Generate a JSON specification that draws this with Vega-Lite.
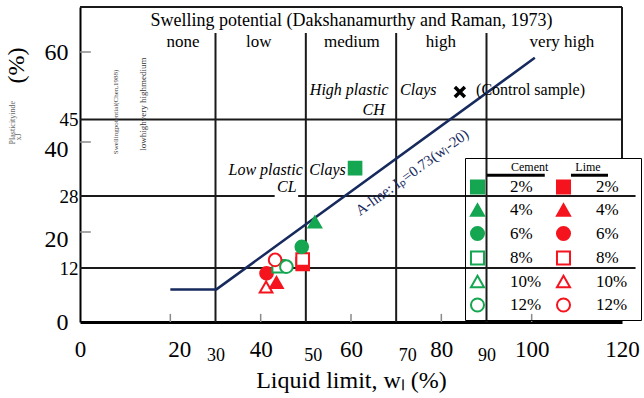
{
  "$schema": "https://vega.github.io/schema/vega-lite/v6.json",
  "width": 542,
  "height": 315,
  "autosize": {"type": "none"},
  "padding": {"left": 80, "top": 7, "right": 22, "bottom": 76},
  "background": "white",
  "config": {"font": "Liberation Serif", "view": {"stroke": null}},
  "datasets": {
    "lines": [
      {"x": 0, "x2": 120, "y": 70, "y2": 70},
      {"x": 120, "x2": 120, "y": 36.4, "y2": 70},
      {"x": 0, "x2": 120, "y": 45, "y2": 45},
      {"x": 0, "x2": 43.1, "y": 28, "y2": 28},
      {"x": 48.3, "x2": 123, "y": 28, "y2": 28},
      {"x": 0, "x2": 123, "y": 12, "y2": 12},
      {"x": 30, "x2": 30, "y": 0, "y2": 64.2},
      {"x": 50, "x2": 50, "y": 0, "y2": 64.2},
      {"x": 70, "x2": 70, "y": 0, "y2": 64.2},
      {"x": 90, "x2": 90, "y": 0, "y2": 64.2}
    ],
    "underlines": [
      {"x": 90.1, "x2": 102.9, "y": 32.6, "y2": 32.6},
      {"x": 108.7, "x2": 116.9, "y": 32.6, "y2": 32.6}
    ],
    "ticks": [
      {"x": 20, "x2": 20, "y": 0, "y2": 1.8},
      {"x": 40, "x2": 40, "y": 0, "y2": 1.8},
      {"x": 60, "x2": 60, "y": 0, "y2": 1.8},
      {"x": 80, "x2": 80, "y": 0, "y2": 1.8},
      {"x": 100, "x2": 100, "y": 0, "y2": 1.8},
      {"x": 0, "x2": 2.4, "y": 20, "y2": 20},
      {"x": 0, "x2": 2.4, "y": 40, "y2": 40},
      {"x": 0, "x2": 2.4, "y": 60, "y2": 60}
    ],
    "aline": [
      {"x": 20, "y": 7.25},
      {"x": 30.2, "y": 7.25},
      {"x": 100.7, "y": 58.7}
    ],
    "points": [
      {"key": "Lime 2%", "x": 49.3, "y": 12.9},
      {"key": "Cement 10%", "x": 43.9, "y": 13.0},
      {"key": "Lime 10%", "x": 41.2, "y": 7.8},
      {"key": "Lime 6%", "x": 41.3, "y": 10.8},
      {"key": "Lime 4%", "x": 43.5, "y": 8.8},
      {"key": "Cement 8%", "x": 44.0, "y": 12.4},
      {"key": "Lime 12%", "x": 43.2, "y": 13.8},
      {"key": "Cement 12%", "x": 45.7, "y": 12.3},
      {"key": "Lime 8%", "x": 49.3, "y": 13.9},
      {"key": "Cement 6%", "x": 49.1, "y": 16.7},
      {"key": "Cement 4%", "x": 52.0, "y": 22.2},
      {"key": "Cement 2%", "x": 60.9, "y": 34.2}
    ],
    "control": [{"x": 84.1, "y": 51.1}],
    "zones": [
      {"t": "none", "x": 22.8, "y": 62.3},
      {"t": "low", "x": 39.6, "y": 62.3},
      {"t": "medium", "x": 60.2, "y": 62.3},
      {"t": "high", "x": 79.9, "y": 62.3},
      {"t": "very high", "x": 106.7, "y": 62.3}
    ],
    "italic": [
      {"t": "High plastic", "x": 59.6, "y": 51.6},
      {"t": "CH", "x": 65.0, "y": 47.1},
      {"t": "Clays", "x": 74.9, "y": 51.6},
      {"t": "Low plastic", "x": 41.1, "y": 33.8},
      {"t": "CL", "x": 45.8, "y": 30.0},
      {"t": "Clays", "x": 54.8, "y": 33.8}
    ]
  },
  "layer": [
    {
      "data": {"name": "lines"},
      "mark": {"type": "rule", "color": "#1a1a1a", "strokeWidth": 2},
      "encoding": {
        "x": {
          "field": "x", "type": "quantitative",
          "scale": {"domain": [0, 120], "nice": false, "zero": false},
          "axis": {
            "values": [0, 20, 30, 40, 50, 60, 70, 80, 90, 100, 120],
            "title": "Liquid limit, wₗ (%)",
            "titleFont": "Liberation Serif", "titleFontSize": 24, "titleFontWeight": "normal", "titleColor": "black", "titlePadding": 4,
            "labelFont": "Liberation Serif", "labelColor": "black",
            "labelFontSize": {"condition": {"test": "datum.value == 30 || datum.value == 50 || datum.value == 70 || datum.value == 90", "value": 18}, "value": 23},
            "labelPadding": {"condition": {"test": "datum.value == 30 || datum.value == 50 || datum.value == 70 || datum.value == 90", "value": 24}, "value": 16},
            "labelOffset": {"condition": [{"test": "datum.value == 20", "value": 9}, {"test": "datum.value == 50", "value": 7}, {"test": "datum.value == 70", "value": 11}], "value": 0},
            "labelFlush": false, "labelOverlap": false,
            "ticks": false, "grid": false, "domainColor": "black", "domainWidth": 3
          }
        },
        "x2": {"field": "x2"},
        "y": {
          "field": "y", "type": "quantitative",
          "scale": {"domain": [0, 70], "nice": false, "zero": false},
          "axis": {
            "values": [0, 12, 20, 28, 40, 45, 60],
            "title": "(%)",
            "titleFont": "Liberation Serif", "titleFontSize": 24, "titleFontWeight": "normal", "titleColor": "black",
            "titleX": -52, "titleY": 58,
            "labelFont": "Liberation Serif", "labelColor": "black",
            "labelFontSize": {"condition": {"test": "datum.value == 12 || datum.value == 28 || datum.value == 45", "value": 19}, "value": 24},
            "labelPadding": {"condition": {"test": "datum.value == 12 || datum.value == 28 || datum.value == 45", "value": 2}, "value": 12},
            "labelOffset": {"condition": {"test": "datum.value == 20 || datum.value == 40", "value": 7}, "value": 0},
            "labelFlush": false, "labelOverlap": false,
            "ticks": false, "grid": false, "domainColor": "black", "domainWidth": 2
          }
        },
        "y2": {"field": "y2"}
      }
    },
    {
      "data": {"name": "underlines"},
      "mark": {"type": "rule", "color": "black", "strokeWidth": 3},
      "encoding": {
        "x": {"field": "x", "type": "quantitative"},
        "x2": {"field": "x2"},
        "y": {"field": "y", "type": "quantitative"},
        "y2": {"field": "y2"}
      }
    },
    {
      "data": {"name": "ticks"},
      "mark": {"type": "rule", "color": "#8a8a8a", "strokeWidth": 1.5},
      "encoding": {
        "x": {"field": "x", "type": "quantitative"},
        "x2": {"field": "x2"},
        "y": {"field": "y", "type": "quantitative"},
        "y2": {"field": "y2"}
      }
    },
    {
      "data": {"name": "aline"},
      "mark": {"type": "line", "color": "#172a5e", "strokeWidth": 2.5},
      "encoding": {
        "x": {"field": "x", "type": "quantitative"},
        "y": {"field": "y", "type": "quantitative"}
      }
    },
    {
      "data": {"name": "points"},
      "mark": {"type": "point", "filled": true, "size": 160, "strokeWidth": 2, "opacity": 1},
      "encoding": {
        "x": {"field": "x", "type": "quantitative"},
        "y": {"field": "y", "type": "quantitative"},
        "shape": {
          "field": "key", "type": "nominal",
          "scale": {
            "domain": ["Cement 2%", "Cement 4%", "Cement 6%", "Cement 8%", "Cement 10%", "Cement 12%", "Lime 2%", "Lime 4%", "Lime 6%", "Lime 8%", "Lime 10%", "Lime 12%"],
            "range": ["square", "triangle-up", "circle", "square", "triangle-up", "circle", "square", "triangle-up", "circle", "square", "triangle-up", "circle"]
          },
          "legend": {
            "title": "\u2060\u00a0\u00a0\u00a0\u00a0\u00a0\u00a0\u00a0\u00a0\u00a0\u00a0\u00a0\u00a0\u00a0\u00a0Cement\u00a0\u00a0\u00a0\u00a0\u00a0\u00a0\u00a0\u00a0\u00a0Lime\u00a0\u00a0\u00a0\u00a0\u00a0\u00a0\u00a0\u00a0\u00a0\u00a0\u00a0\u00a0\u2060",
            "orient": "none", "legendX": 385, "legendY": 151, "columns": 2,
            "titleFont": "Liberation Serif", "titleFontSize": 12, "titleFontWeight": "normal", "titleColor": "black", "titlePadding": 4,
            "labelFont": "Liberation Serif", "labelFontSize": 17, "labelColor": "black", "labelOffset": 24,
            "labelExpr": "split(datum.label, ' ')[1]",
            "symbolSize": 170, "symbolStrokeWidth": 2,
            "rowPadding": 1.5, "columnPadding": 10, "padding": 4,
            "strokeColor": "black",
            "encode": {"legend": {"update": {"strokeWidth": {"value": 3}}}}
          }
        },
        "fill": {
          "field": "key", "type": "nominal",
          "scale": {
            "domain": ["Cement 2%", "Cement 4%", "Cement 6%", "Cement 8%", "Cement 10%", "Cement 12%", "Lime 2%", "Lime 4%", "Lime 6%", "Lime 8%", "Lime 10%", "Lime 12%"],
            "range": ["#14a650", "#14a650", "#14a650", "white", "white", "white", "#f5141e", "#f5141e", "#f5141e", "white", "white", "white"]
          },
          "legend": {
            "title": "\u2060\u00a0\u00a0\u00a0\u00a0\u00a0\u00a0\u00a0\u00a0\u00a0\u00a0\u00a0\u00a0\u00a0\u00a0Cement\u00a0\u00a0\u00a0\u00a0\u00a0\u00a0\u00a0\u00a0\u00a0Lime\u00a0\u00a0\u00a0\u00a0\u00a0\u00a0\u00a0\u00a0\u00a0\u00a0\u00a0\u00a0\u2060",
            "orient": "none", "legendX": 385, "legendY": 151, "columns": 2,
            "titleFont": "Liberation Serif", "titleFontSize": 12, "titleFontWeight": "normal", "titleColor": "black", "titlePadding": 4,
            "labelFont": "Liberation Serif", "labelFontSize": 17, "labelColor": "black", "labelOffset": 24,
            "labelExpr": "split(datum.label, ' ')[1]",
            "symbolSize": 170, "symbolStrokeWidth": 2,
            "rowPadding": 1.5, "columnPadding": 10, "padding": 4,
            "strokeColor": "black",
            "encode": {"legend": {"update": {"strokeWidth": {"value": 3}}}}
          }
        },
        "stroke": {
          "field": "key", "type": "nominal",
          "scale": {
            "domain": ["Cement 2%", "Cement 4%", "Cement 6%", "Cement 8%", "Cement 10%", "Cement 12%", "Lime 2%", "Lime 4%", "Lime 6%", "Lime 8%", "Lime 10%", "Lime 12%"],
            "range": ["#14a650", "#14a650", "#14a650", "#14a650", "#14a650", "#14a650", "#f5141e", "#f5141e", "#f5141e", "#f5141e", "#f5141e", "#f5141e"]
          },
          "legend": {
            "title": "\u2060\u00a0\u00a0\u00a0\u00a0\u00a0\u00a0\u00a0\u00a0\u00a0\u00a0\u00a0\u00a0\u00a0\u00a0Cement\u00a0\u00a0\u00a0\u00a0\u00a0\u00a0\u00a0\u00a0\u00a0Lime\u00a0\u00a0\u00a0\u00a0\u00a0\u00a0\u00a0\u00a0\u00a0\u00a0\u00a0\u00a0\u2060",
            "orient": "none", "legendX": 385, "legendY": 151, "columns": 2,
            "titleFont": "Liberation Serif", "titleFontSize": 12, "titleFontWeight": "normal", "titleColor": "black", "titlePadding": 4,
            "labelFont": "Liberation Serif", "labelFontSize": 17, "labelColor": "black", "labelOffset": 24,
            "labelExpr": "split(datum.label, ' ')[1]",
            "symbolSize": 170, "symbolStrokeWidth": 2,
            "rowPadding": 1.5, "columnPadding": 10, "padding": 4,
            "strokeColor": "black",
            "encode": {"legend": {"update": {"strokeWidth": {"value": 3}}}}
          }
        }
      }
    },
    {
      "data": {"name": "control"},
      "mark": {"type": "point", "shape": "M-1,-1L1,1M-1,1L1,-1", "filled": false, "size": 100, "stroke": "black", "strokeWidth": 3.5, "opacity": 1},
      "encoding": {
        "x": {"field": "x", "type": "quantitative"},
        "y": {"field": "y", "type": "quantitative"}
      }
    },
    {
      "data": {"values": [{"t": "Swelling potential (Dakshanamurthy and Raman, 1973)", "x": 60.1, "y": 66.9}]},
      "mark": {"type": "text", "font": "Liberation Serif", "fontSize": 18, "color": "black", "align": "center", "baseline": "middle"},
      "encoding": {"x": {"field": "x", "type": "quantitative"}, "y": {"field": "y", "type": "quantitative"}, "text": {"field": "t"}}
    },
    {
      "data": {"name": "zones"},
      "mark": {"type": "text", "font": "Liberation Serif", "fontSize": 17, "color": "black", "align": "center", "baseline": "middle"},
      "encoding": {"x": {"field": "x", "type": "quantitative"}, "y": {"field": "y", "type": "quantitative"}, "text": {"field": "t"}}
    },
    {
      "data": {"name": "italic"},
      "mark": {"type": "text", "font": "Liberation Serif", "fontSize": 16, "fontStyle": "italic", "color": "black", "align": "center", "baseline": "middle"},
      "encoding": {"x": {"field": "x", "type": "quantitative"}, "y": {"field": "y", "type": "quantitative"}, "text": {"field": "t"}}
    },
    {
      "data": {"values": [{"t": "(Control sample)", "x": 87.7, "y": 51.6}]},
      "mark": {"type": "text", "font": "Liberation Serif", "fontSize": 16, "color": "black", "align": "left", "baseline": "middle"},
      "encoding": {"x": {"field": "x", "type": "quantitative"}, "y": {"field": "y", "type": "quantitative"}, "text": {"field": "t"}}
    },
    {
      "data": {"values": [{"t": "A-line: Iₚ=0.73(wₗ-20)", "x": 73.5, "y": 33.3}]},
      "mark": {"type": "text", "font": "Liberation Serif", "fontSize": 15, "color": "#172a5e", "align": "center", "baseline": "middle", "angle": -36},
      "encoding": {"x": {"field": "x", "type": "quantitative"}, "y": {"field": "y", "type": "quantitative"}, "text": {"field": "t"}}
    },
    {
      "data": {"values": [{"t": "Swellingpotential(Chen,1988)", "x": 8.0, "y": 46.7}]},
      "mark": {"type": "text", "font": "Liberation Serif", "fontSize": 7, "color": "#444444", "align": "center", "baseline": "middle", "angle": -90},
      "encoding": {"x": {"field": "x", "type": "quantitative"}, "y": {"field": "y", "type": "quantitative"}, "text": {"field": "t"}}
    },
    {
      "data": {"values": [{"t": "lowhighvery highmedium", "x": 13.9, "y": 48.4}]},
      "mark": {"type": "text", "font": "Liberation Serif", "fontSize": 9, "color": "#333333", "align": "center", "baseline": "middle", "angle": -90},
      "encoding": {"x": {"field": "x", "type": "quantitative"}, "y": {"field": "y", "type": "quantitative"}, "text": {"field": "t"}}
    },
    {
      "data": {"values": [{"t": "Plasticityinde", "x": -14.8, "y": 44.3}, {"t": "xJ", "x": -13.5, "y": 41.1}]},
      "mark": {"type": "text", "font": "Liberation Serif", "fontSize": 8, "color": "#666666", "align": "center", "baseline": "middle", "angle": -90},
      "encoding": {"x": {"field": "x", "type": "quantitative"}, "y": {"field": "y", "type": "quantitative"}, "text": {"field": "t"}}
    }
  ]
}
